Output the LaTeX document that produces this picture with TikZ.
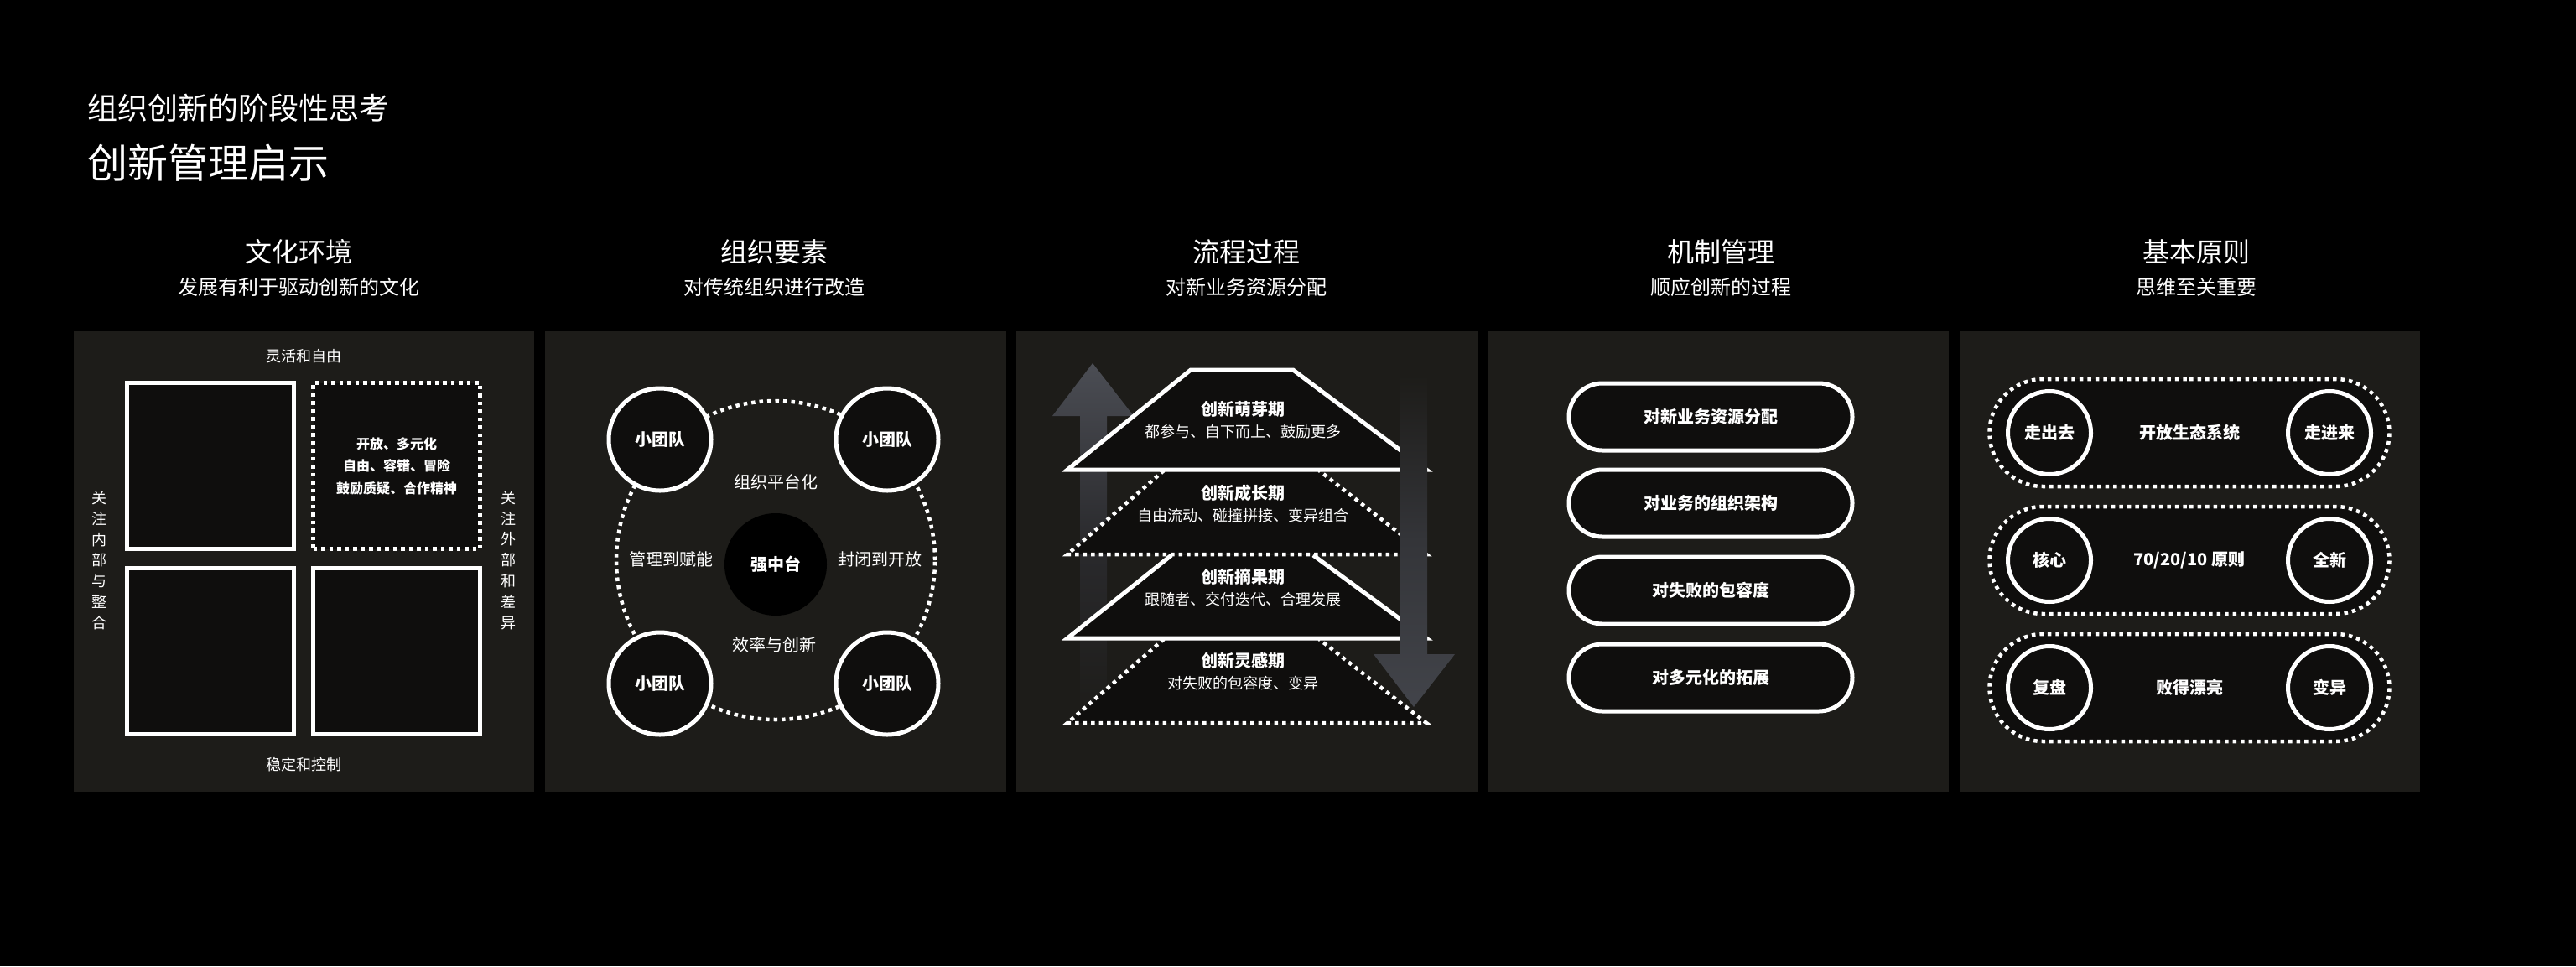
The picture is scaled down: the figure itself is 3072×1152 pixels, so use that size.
\documentclass[tikz,border=0pt]{standalone}
\usepackage{fontspec}
\setmainfont{Noto Sans CJK SC}
\usepackage{tikz}
\usetikzlibrary{positioning,shapes,fit}
\definecolor{panelgrey}{RGB}{29,28,25}
\definecolor{innerdark}{RGB}{15,14,13}
\definecolor{arrowgrey}{RGB}{75,77,84}
\definecolor{arrowgreyb}{RGB}{66,68,74}
\definecolor{fadeup}{RGB}{42,42,45}
\definecolor{fadedown}{RGB}{52,53,57}

\begin{document}
\begin{tikzpicture}[x = 1pt, y = -1pt,
  every node/.style = {text = white, inner sep = 0pt},
  heading/.style = {font = \fontsize{32}{36}\selectfont},
  subheading/.style = {font = \fontsize{24}{28}\selectfont},
  smalltext/.style = {font = \fontsize{20}{24}\selectfont},
  boldtext/.style = {font = \fontsize{20}{24}\selectfont\bfseries},
  solidline/.style = {draw = white, line width = 5pt},
  ring/.style = {solidline, fill = innerdark},
  dottedline/.style = {draw = white, line width = 4.5pt, dash pattern = on 4.5pt off 5pt},
  vertical/.style = {font = \fontsize{18}{24.8}\selectfont, align = center}]
\fill[black] (0,0) rectangle (3072,1152);
\useasboundingbox (0,0) rectangle (3072,1152);
\node[anchor = west, font = \fontsize{36}{40}\selectfont] (kicker) at (104,129) {组织创新的阶段性思考};
\node[anchor = west, font = \fontsize{48}{52}\selectfont] (maintitle) at (104,194) {创新管理启示};
\node[heading] (h1) at (356,300) {文化环境};
\node[subheading] (s1) at (356,342) {发展有利于驱动创新的文化};
\node[heading] (h2) at (923,300) {组织要素};
\node[subheading] (s2) at (923,342) {对传统组织进行改造};
\node[heading] (h3) at (1486,300) {流程过程};
\node[subheading] (s3) at (1486,342) {对新业务资源分配};
\node[heading] (h4) at (2052,300) {机制管理};
\node[subheading] (s4) at (2052,342) {顺应创新的过程};
\node[heading] (h5) at (2619,300) {基本原则};
\node[subheading] (s5) at (2619,342) {思维至关重要};
\fill[panelgrey] (88,395) rectangle (637,944);
\fill[panelgrey] (650,395) rectangle (1200,944);
\fill[panelgrey] (1212,395) rectangle (1762,944);
\fill[panelgrey] (1774,395) rectangle (2324,944);
\fill[panelgrey] (2337,395) rectangle (2886,944);
\node[rectangle, ring, minimum width = 199pt, minimum height = 198pt] (q1) at (251,555.5) {};
\node[rectangle, dottedline, fill = innerdark, minimum width = 199pt, minimum height = 198pt, align = center, font = \fontsize{16}{26.5}\selectfont\bfseries] (q2) at (473,555.5) {开放、多元化\\自由、容错、冒险\\鼓励质疑、合作精神};
\node[rectangle, ring, minimum width = 199pt, minimum height = 198pt] (q3) at (251,776.5) {};
\node[rectangle, ring, minimum width = 199pt, minimum height = 198pt] (q4) at (473,776.5) {};
\node[font = \fontsize{18}{22}\selectfont] (flex) at (362,425) {灵活和自由};
\node[font = \fontsize{18}{22}\selectfont] (stable) at (362,912) {稳定和控制};
\node[vertical] (inner) at (118,668) {关\\注\\内\\部\\与\\整\\合};
\node[vertical] (outer) at (606,668) {关\\注\\外\\部\\和\\差\\异};
\draw[dottedline] (925,668) circle[radius = 190pt];
\node[circle, ring, minimum size = 122pt, boldtext] (team1) at (787,524) {小团队};
\node[circle, ring, minimum size = 122pt, boldtext] (team2) at (1058,524) {小团队};
\node[circle, ring, minimum size = 122pt, boldtext] (team3) at (787,815) {小团队};
\node[circle, ring, minimum size = 122pt, boldtext] (team4) at (1058,815) {小团队};
\node[circle, fill = black, minimum size = 122pt, boldtext] (hub) at (925,673) {强中台};
\node[smalltext] (platform) at (925,575) {组织平台化};
\node[smalltext] (enable) at (800,667) {管理到赋能};
\node[smalltext] (open) at (1049,667) {封闭到开放};
\node[smalltext] (effic) at (923,769) {效率与创新};
\shade[top color = arrowgrey, bottom color = panelgrey, middle color = fadeup] (1303,433) -- (1352,496) -- (1320,496) -- (1320,863) -- (1288,863) -- (1288,496) -- (1255,496) -- cycle;
\fill[innerdark] (1420,441) -- (1542,441) -- (1701,560) -- (1273,560) -- cycle;
\fill[innerdark] (1388,561) -- (1573,561) -- (1701,661) -- (1273,661) -- cycle;
\fill[innerdark] (1397,662) -- (1566,662) -- (1701,761) -- (1273,761) -- cycle;
\fill[innerdark] (1388,762) -- (1573,762) -- (1701,862) -- (1273,862) -- cycle;
\draw[dottedline] (1388,561) -- (1273,661) -- (1701,661) -- (1573,561);
\draw[dottedline] (1388,762) -- (1273,862) -- (1701,862) -- (1573,762);
\draw[solidline] (1397,662) -- (1273,761) -- (1701,761) -- (1566,662);
\draw[solidline] (1420,441) -- (1542,441) -- (1701,560) -- (1273,560) -- cycle;
\shade[top color = panelgrey, bottom color = arrowgreyb, middle color = fadedown] (1670,447) -- (1702,447) -- (1702,780) -- (1735,780) -- (1686,843) -- (1638,780) -- (1670,780) -- cycle;
\node[boldtext] (sprout) at (1482,488) {创新萌芽期};
\node[font = \fontsize{18}{22}\selectfont] (sproutsub) at (1482,515) {都参与、自下而上、鼓励更多};
\node[boldtext] (grow) at (1482,588) {创新成长期};
\node[font = \fontsize{18}{22}\selectfont] (growsub) at (1482,615) {自由流动、碰撞拼接、变异组合};
\node[boldtext] (harvest) at (1482,688) {创新摘果期};
\node[font = \fontsize{18}{22}\selectfont] (harvestsub) at (1482,715) {跟随者、交付迭代、合理发展};
\node[boldtext] (idea) at (1482,788) {创新灵感期};
\node[font = \fontsize{18}{22}\selectfont] (ideasub) at (1482,815) {对失败的包容度、变异};
\node[rounded rectangle, ring, minimum width = 338pt, minimum height = 80pt, boldtext] (mech1) at (2040,497) {对新业务资源分配};
\node[rounded rectangle, ring, minimum width = 338pt, minimum height = 80pt, boldtext] (mech2) at (2040,600) {对业务的组织架构};
\node[rounded rectangle, ring, minimum width = 338pt, minimum height = 80pt, boldtext] (mech3) at (2040,704) {对失败的包容度};
\node[rounded rectangle, ring, minimum width = 338pt, minimum height = 80pt, boldtext] (mech4) at (2040,808) {对多元化的拓展};
\node[rounded rectangle, dottedline, fill = innerdark, minimum width = 477pt, minimum height = 128pt] (eco) at (2611,516) {};
\node[rounded rectangle, dottedline, fill = innerdark, minimum width = 477pt, minimum height = 128pt] (ratio) at (2611,668) {};
\node[rounded rectangle, dottedline, fill = innerdark, minimum width = 477pt, minimum height = 128pt] (fail) at (2611,820) {};
\node[circle, ring, minimum size = 99pt, boldtext] (goout) at (2444,516) {走出去};
\node[circle, ring, minimum size = 99pt, boldtext] (comein) at (2778,516) {走进来};
\node[boldtext] (ecotext) at (2611,516) {开放生态系统};
\node[circle, ring, minimum size = 99pt, boldtext] (core) at (2444,668) {核心};
\node[circle, ring, minimum size = 99pt, boldtext] (brandnew) at (2778,668) {全新};
\node[boldtext] (ratiotext) at (2611,668) {70/20/10 原则};
\node[circle, ring, minimum size = 99pt, boldtext] (review) at (2444,820) {复盘};
\node[circle, ring, minimum size = 99pt, boldtext] (mutate) at (2778,820) {变异};
\node[boldtext] (failtext) at (2611,820) {败得漂亮};
\end{tikzpicture}
\end{document}
